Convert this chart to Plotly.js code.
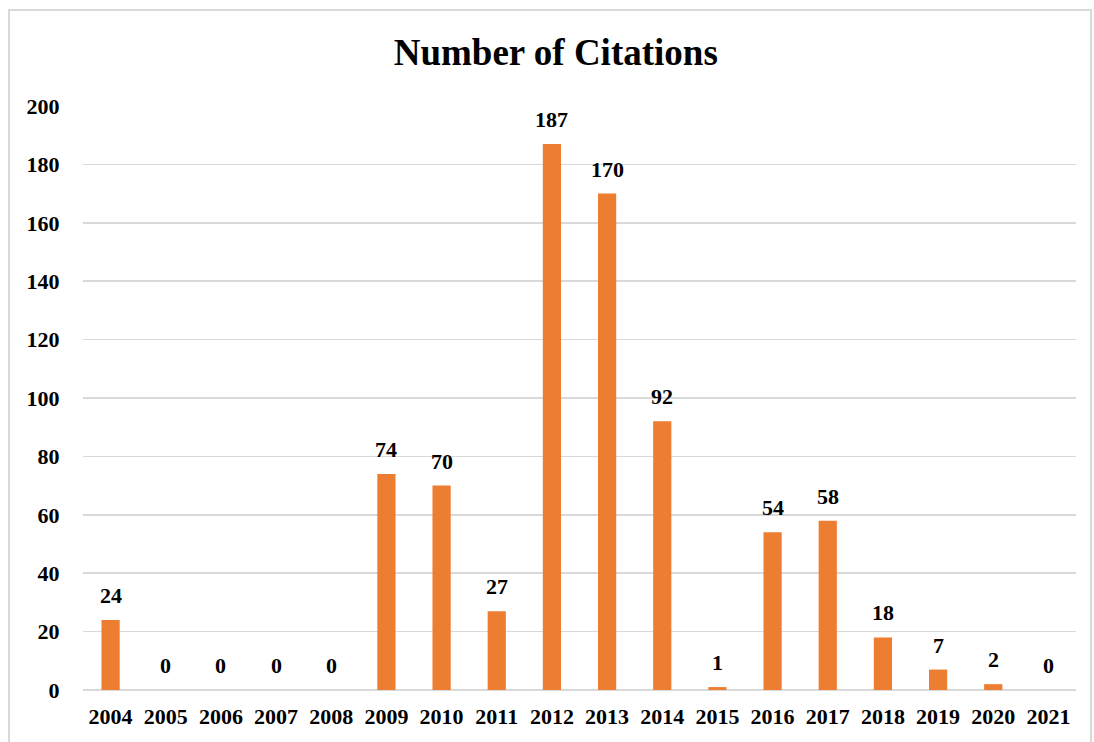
<!DOCTYPE html>
<html>
<head>
<meta charset="utf-8">
<script src="https://cdn.plot.ly/plotly-3.0.1.min.js"></script>
<style>
html,body{margin:0;padding:0;background:#fff;}
#chart{position:absolute;left:0;top:0;width:1094px;height:742px;}
#frame{position:absolute;left:8px;top:9px;width:1080px;height:740px;border:2px solid #d9d9d9;pointer-events:none;}
</style>
</head>
<body>
<div id="chart"></div>
<div id="frame"></div>
<script>
const years = [2004,2005,2006,2007,2008,2009,2010,2011,2012,2013,2014,2015,2016,2017,2018,2019,2020,2021];
const citations = [24,0,0,0,0,74,70,27,187,170,92,1,54,58,18,7,2,0];
const yTicks = [0,20,40,60,80,100,120,140,160,180,200];

const font = "Liberation Serif, Times New Roman, serif";

const annotations = years.map((y,i)=>({
  x: y, y: citations[i], xref:'x', yref:'y',
  text: '<b>' + citations[i] + '</b>', showarrow:false,
  yanchor:'bottom', yshift:10,
  font:{family:font,size:22,color:'#000'}
}));

Plotly.newPlot('chart',[{
  type:'bar', x:years, y:citations,
  marker:{color:'#ed7d31'},
  width:0.33,
  hoverinfo:'x+y'
}],{
  width:1094, height:742,
  margin:{l:83,r:18,t:106,b:52},
  paper_bgcolor:'#fff', plot_bgcolor:'#fff',
  title:{text:'<b>Number of Citations</b>', x:0.508, xanchor:'center', y:0.93, yanchor:'middle',
    font:{family:font,size:37,color:'#000'}},
  xaxis:{type:'linear', range:[years[0]-0.5, years[years.length-1]+0.5],
    tickvals:years, ticktext:years.map(y=>'<b>'+y+'</b>'),
    showgrid:false, showline:false, zeroline:false,
    ticks:'outside', ticklen:7, tickcolor:'rgba(0,0,0,0)',
    tickfont:{family:font,size:22,color:'#000'}},
  yaxis:{range:[0,200], tickvals:yTicks, ticktext:yTicks.map(v=>'<b>'+v+'</b>'),
    showgrid:true, gridcolor:'#d9d9d9', gridwidth:1.5, zeroline:true, zerolinecolor:'#d9d9d9', zerolinewidth:1.5,
    showline:false, ticks:'outside', ticklen:18, tickcolor:'rgba(0,0,0,0)',
    tickfont:{family:font,size:22,color:'#000'}},
  annotations:annotations,
  showlegend:false
},{displayModeBar:false,staticPlot:true});
</script>
</body>
</html>
